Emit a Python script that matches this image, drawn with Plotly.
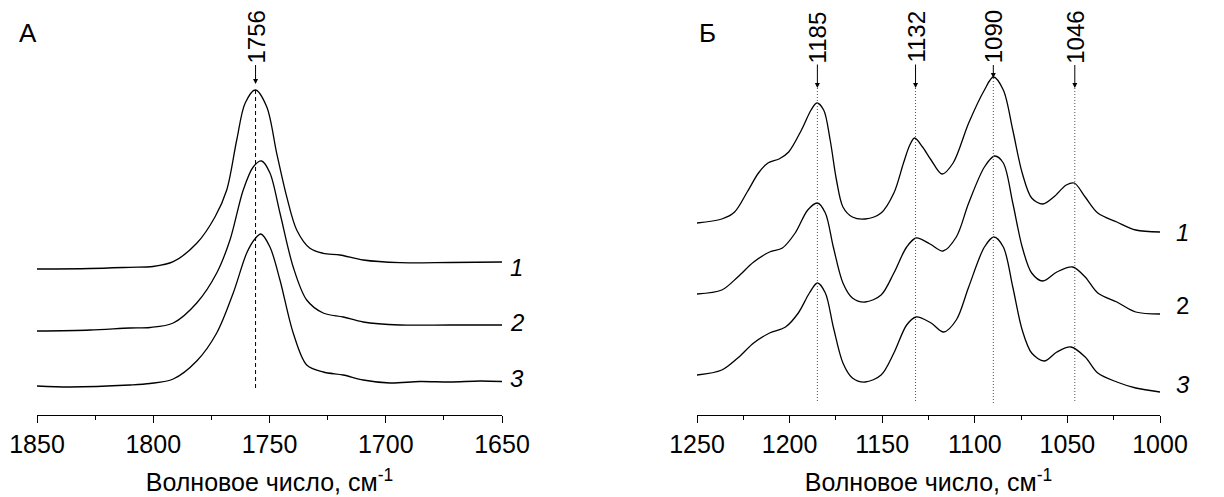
import plotly.graph_objects as go

# ---------------- Panel A (carbonyl region) ----------------
wn_a1 = [1850, 1827.2, 1810, 1800.1, 1791.4, 1781.3, 1773.4, 1768.4, 1764.1, 1760.5, 1756.1,
         1751.2, 1746.9, 1742.6, 1738.3, 1732.6, 1726.9, 1719.7, 1709.7, 1693.9, 1672.4, 1650]
ab_a1 = [1.46, 1.465, 1.477, 1.485, 1.533, 1.717, 1.983, 2.25, 2.75, 3.117, 3.25,
         3.083, 2.617, 2.183, 1.85, 1.667, 1.617, 1.60, 1.55, 1.523, 1.525, 1.53]

wn_a2 = [1850, 1827.2, 1810, 1801.4, 1791.4, 1781.3, 1772.7, 1767, 1761.3, 1757, 1753.4,
         1749.8, 1745.5, 1739.8, 1734, 1726.9, 1718.3, 1709.7, 1693.9, 1672.4, 1650]
ab_a2 = [0.84, 0.85, 0.87, 0.875, 0.92, 1.12, 1.42, 1.75, 2.25, 2.48, 2.54,
         2.42, 2.02, 1.48, 1.15, 1.02, 0.98, 0.93, 0.90, 0.90, 0.90]

wn_a3 = [1850, 1835.8, 1810, 1801.4, 1791.4, 1781.3, 1772.7, 1765.6, 1759.8, 1756.3, 1753.7,
         1749.8, 1745.5, 1739.8, 1734, 1726.9, 1718.3, 1709.7, 1698.2, 1685.3, 1672.4, 1659.5, 1650]
ab_a3 = [0.29, 0.28, 0.30, 0.315, 0.36, 0.54, 0.82, 1.22, 1.62, 1.76, 1.81,
         1.68, 1.35, 0.82, 0.50, 0.43, 0.40, 0.35, 0.32, 0.335, 0.33, 0.34, 0.335]

peaks_a = [1756]
ticks_a = [1850, 1800, 1750, 1700, 1650]

# ---------------- Panel B (C-O region) ----------------
wn_b1 = [1250, 1236.6, 1229.7, 1222.9, 1216.8, 1211.7, 1205.7, 1200.5, 1193.6, 1188.4, 1185.3,
         1181.6, 1178.1, 1174.7, 1171.2, 1166.1, 1159.2, 1150.6, 1143.7, 1138.5, 1135.1, 1132.5,
         1128.2, 1123.6, 1117.7, 1111.7, 1103.3, 1094.8, 1090, 1084.6, 1079.5, 1074.4, 1069.3,
         1063.3, 1057.4, 1050.6, 1046.3, 1040.4, 1033.6, 1023.3, 1013.1, 1000]
ab_b1 = [1.92, 1.96, 2.03, 2.23, 2.42, 2.52, 2.56, 2.63, 2.85, 3.05, 3.12,
         3.05, 2.75, 2.35, 2.08, 1.98, 1.96, 2.02, 2.22, 2.52, 2.70, 2.77,
         2.68, 2.55, 2.41, 2.52, 2.92, 3.25, 3.38, 3.25, 2.85, 2.42, 2.17,
         2.11, 2.18, 2.30, 2.32, 2.18, 2.02, 1.93, 1.85, 1.83]

wn_b2 = [1250, 1236.6, 1228, 1219.4, 1210.8, 1203.9, 1197, 1190.2, 1185, 1180.7, 1176.4,
         1171.2, 1166.1, 1159.2, 1150.6, 1143.7, 1136.8, 1131.7, 1124.2, 1117.2, 1110, 1103.3,
         1094.8, 1089.3, 1084.6, 1079.5, 1074.4, 1069.3, 1063.3, 1055.7, 1047.2, 1040.4, 1033.6,
         1023.3, 1013.1, 1000]
ab_b2 = [1.21, 1.25, 1.38, 1.53, 1.63, 1.67, 1.82, 2.05, 2.12, 2.02, 1.68,
         1.32, 1.17, 1.13, 1.20, 1.42, 1.68, 1.77, 1.71, 1.64, 1.78, 2.12,
         2.48, 2.59, 2.52, 2.12, 1.68, 1.42, 1.34, 1.43, 1.48, 1.38, 1.22,
         1.13, 1.03, 1.01]

wn_b3 = [1250, 1236.6, 1228, 1219.4, 1210.8, 1202.2, 1195.3, 1189.3, 1185, 1180.7, 1176.4,
         1171.2, 1166.1, 1159.2, 1150.6, 1143.7, 1136.8, 1131.7, 1123.6, 1116.8, 1110, 1103.3,
         1094.8, 1089.7, 1084.6, 1079.5, 1074.4, 1069.3, 1062.5, 1055.7, 1048.1, 1040.4, 1033.6,
         1023.3, 1013.1, 1000]
ab_b3 = [0.40, 0.45, 0.57, 0.72, 0.82, 0.88, 1.02, 1.22, 1.32, 1.22, 0.88,
         0.52, 0.37, 0.33, 0.40, 0.62, 0.90, 0.98, 0.92, 0.83, 0.95, 1.28,
         1.68, 1.78, 1.68, 1.28, 0.85, 0.62, 0.54, 0.63, 0.68, 0.58, 0.42,
         0.33, 0.27, 0.23]

peaks_b = [1185, 1132, 1090, 1046]
ticks_b = [1250, 1200, 1150, 1100, 1050, 1000]

curve_labels = ["1", "2", "3"]
panel_letters = ["А", "Б"]
x_title = "Волновое число, см<sup>-1</sup>"

FONT = "Liberation Sans, Arial, sans-serif"
BLACK = "#000000"

# Page has an 8px body margin, so the figure is drawn 8px smaller and offset.
W, H = 1216, 489
PLOT_H = 407
Y_TOP = 4.07

fig = go.Figure()

series_a = [(wn_a1, ab_a1), (wn_a2, ab_a2), (wn_a3, ab_a3)]
series_b = [(wn_b1, ab_b1), (wn_b2, ab_b2), (wn_b3, ab_b3)]

for wn, ab in series_a:
    fig.add_trace(go.Scatter(x=wn, y=ab, mode="lines", xaxis="x", yaxis="y",
                             line=dict(color=BLACK, width=1.3, shape="spline", smoothing=0.9),
                             showlegend=False, hoverinfo="skip"))
for wn, ab in series_b:
    fig.add_trace(go.Scatter(x=wn, y=ab, mode="lines", xaxis="x2", yaxis="y2",
                             line=dict(color=BLACK, width=1.3, shape="spline", smoothing=0.9),
                             showlegend=False, hoverinfo="skip"))

annotations = []
shapes = []

TEXT_Y = 3.78      # centre of rotated peak labels
TIP_LEVEL = 3.27   # default arrow-tip level

def peak_height(series, p):
    wn, ab = series[0]
    best = min(range(len(wn)), key=lambda i: abs(wn[i] - p))
    return ab[best]

# Panel A peak annotation + dashed line
for p in peaks_a:
    tip = max(3.31, peak_height(series_a, p) + 0.02)
    annotations.append(dict(x=p, y=tip, xref="x", yref="y", ax=p, ay=TEXT_Y, axref="x", ayref="y",
                            text=str(p), textangle=-90, showarrow=True, arrowhead=2, arrowsize=1,
                            arrowwidth=1, arrowcolor=BLACK, standoff=0, startstandoff=0,
                            font=dict(family=FONT, size=24, color=BLACK)))
    shapes.append(dict(type="line", xref="x", yref="y", x0=p, x1=p, y0=peak_height(series_a, p), y1=0.27,
                       line=dict(color=BLACK, width=1, dash="4px,3px")))

# Panel B peak annotations + dotted lines
for p in peaks_b:
    tip = max(TIP_LEVEL, peak_height(series_b, p) - 0.01)
    annotations.append(dict(x=p, y=tip, xref="x2", yref="y2", ax=p, ay=TEXT_Y, axref="x2", ayref="y2",
                            text=str(p), textangle=-90, showarrow=True, arrowhead=2, arrowsize=1,
                            arrowwidth=1, arrowcolor=BLACK, standoff=0, startstandoff=0,
                            font=dict(family=FONT, size=24, color=BLACK)))
    shapes.append(dict(type="line", xref="x2", yref="y2", x0=p, x1=p, y0=tip, y1=0.12,
                       line=dict(color="#555555", width=1, dash="1px,2px")))

# Curve number labels
label_offsets = [-0.03, 0.05, 0.05]
for i, (wn, ab) in enumerate(series_a):
    annotations.append(dict(x=wn[-1], y=ab[-1] + label_offsets[i] - 0.02, xref="x", yref="y",
                            text="<i>" + curve_labels[i] + "</i>", showarrow=False,
                            xanchor="left", xshift=6, yanchor="middle",
                            font=dict(family=FONT, size=24, color=BLACK)))
label_offsets_b = [0.0, 0.09, 0.08]
for i, (wn, ab) in enumerate(series_b):
    txt = curve_labels[i] if i == 1 else "<i>" + curve_labels[i] + "</i>"
    annotations.append(dict(x=wn[-1], y=ab[-1] + label_offsets_b[i], xref="x2", yref="y2",
                            text=txt, showarrow=False, xanchor="left", xshift=14, yanchor="middle",
                            font=dict(family=FONT, size=24, color=BLACK)))

# Panel letters
annotations.append(dict(x=19.5/W, y=1 - 25/PLOT_H, xref="paper", yref="paper", text=panel_letters[0],
                        showarrow=False, xanchor="center", yanchor="middle",
                        font=dict(family=FONT, size=26, color=BLACK)))
annotations.append(dict(x=699/W, y=1 - 25/PLOT_H, xref="paper", yref="paper", text=panel_letters[1],
                        showarrow=False, xanchor="center", yanchor="middle",
                        font=dict(family=FONT, size=26, color=BLACK)))

xaxis_common = dict(showline=True, linecolor=BLACK, linewidth=1, mirror=False,
                    ticks="outside", ticklen=7, tickwidth=1, tickcolor=BLACK,
                    showgrid=False, zeroline=False, automargin=False,
                    tickfont=dict(family=FONT, size=25, color=BLACK),
                    title=dict(text=x_title, font=dict(family=FONT, size=25, color=BLACK), standoff=16),
                    minor=dict(ticks="outside", ticklen=4, tickwidth=1, tickcolor=BLACK, dtick=25, showgrid=False))

fig.update_layout(
    width=W, height=H,
    margin=dict(l=0, r=0, t=0, b=H - PLOT_H, autoexpand=False),
    paper_bgcolor="white", plot_bgcolor="white",
    showlegend=False,
    xaxis=dict(domain=[29/W, 494/W], range=[1850, 1650], tickvals=ticks_a, anchor="y", **xaxis_common),
    yaxis=dict(domain=[0, 1], range=[0, Y_TOP], visible=False, anchor="x"),
    xaxis2=dict(domain=[689/W, 1152/W], range=[1250, 1000], tickvals=ticks_b, anchor="y2", **xaxis_common),
    yaxis2=dict(domain=[0, 1], range=[0, Y_TOP], visible=False, anchor="x2"),
    annotations=annotations,
    shapes=shapes,
)

fig.write_html("out.html")
